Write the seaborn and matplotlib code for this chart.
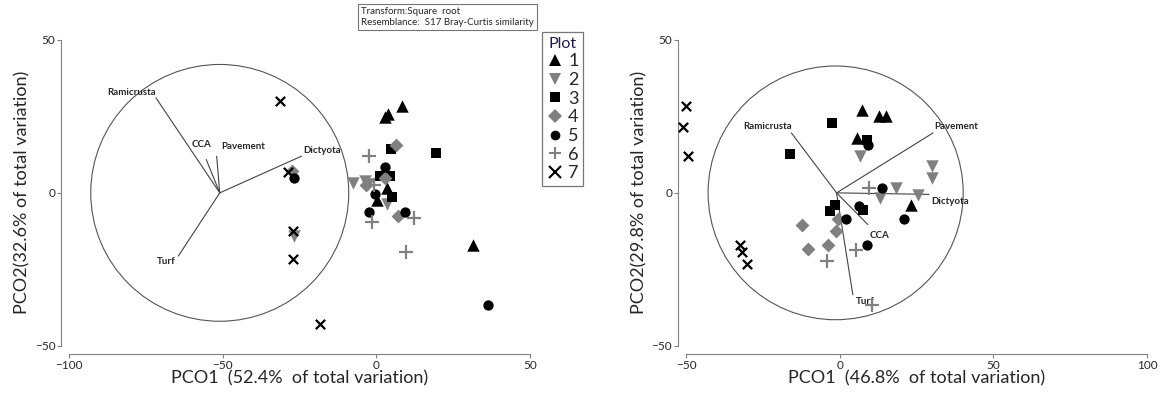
import matplotlib
matplotlib.use('Agg')
import matplotlib.pyplot as plt
import seaborn as sns
from matplotlib.patches import Circle
from matplotlib.lines import Line2D

# PCO scores, left panel (52.4% / 32.6%)
left_x = {
    1: [8.2, 3.9, 2.7, 31.3, 0.2, 3.5],
    2: [-7.5, -3.6, -2.8, 3.4, -26.8],
    3: [4.9, 19.4, 1.2, 4.4, 5.1],
    4: [-27.5, 6.3, 2.7, -3.3, 7.1],
    5: [-26.7, 2.7, -0.5, -2.5, 9.3, 36.5],
    6: [-2.4, -0.9, -1.3, 12.2, 9.7],
    7: [-31.3, -28.8, -27.1, -27.1, -18.4],
}
left_y = {
    1: [28.3, 25.8, 24.7, -17.2, -2.3, 1.7],
    2: [3.2, 3.8, 3.0, -3.5, -14.2],
    3: [14.4, 12.9, 5.6, 5.5, -1.2],
    4: [7.3, 15.8, 5.0, 2.7, -7.6],
    5: [4.8, 8.5, -0.5, -6.4, -6.1, -36.7],
    6: [12.1, 2.6, -9.6, -8.2, -19.5],
    7: [30.0, 6.8, -12.6, -21.6, -43.0],
}

# PCO scores, right panel (46.8% / 29.8%)
right_x = {
    1: [7.2, 12.7, 15.2, 5.6, 23.2],
    2: [6.5, 30.2, 30.0, 18.5, 25.6, 13.0],
    3: [-2.5, -16.0, 8.8, -1.4, -3.0, 7.6],
    4: [-12.4, -10.2, -3.8, -0.5, -1.1],
    5: [9.2, 13.8, 6.3, 2.1, 20.9, 8.8],
    6: [9.4, 5.3, -4.1, 10.5],
    7: [-50.0, -51.0, -49.3, -32.3, -31.7, -30.2],
}
right_y = {
    1: [27.0, 25.0, 25.0, 17.8, -4.0],
    2: [12.2, 8.8, 5.0, 1.7, -0.6, -1.8],
    3: [22.8, 12.6, 17.2, -4.1, -6.0, -5.6],
    4: [-10.5, -18.4, -17.2, -8.6, -12.5],
    5: [15.7, 1.7, -4.3, -8.6, -8.4, -17.1],
    6: [1.7, -18.8, -22.3, -36.6],
    7: [28.5, 21.4, 12.0, -17.0, -19.3, -23.4],
}

# vector overlay (endpoints in data units)
vec_names = ['Ramicrusta', 'CCA', 'Pavement', 'Dictyota', 'Turf']
left_origin = (-51.0, 0.0)
left_vec_x = [-71.8, -55.4, -52.0, -24.4, -64.5]
left_vec_y = [31.1, 10.9, 12.0, 12.0, -20.7]
left_circle = (-51.0, 0.0, 42.0)

right_origin = (-1.0, 0.0)
right_vec_x = [-15.7, 9.2, 30.4, 29.1, 4.3]
right_vec_y = [19.6, -10.4, 19.6, -0.5, -33.3]
right_circle = (-1.3, 0.0, 41.5)

plots = [1, 2, 3, 4, 5, 6, 7]
markers = {1: '^', 2: 'v', 3: 's', 4: 'D', 5: 'o', 6: '+', 7: 'x'}
colors = {1: 'black', 2: '#808080', 3: 'black', 4: '#808080',
          5: 'black', 6: '#808080', 7: 'black'}
sizes = {1: 80, 2: 80, 3: 60, 4: 50, 5: 55, 6: 90, 7: 45}

sns.set_style('white')
plt.rcParams['font.family'] = ['Lato', 'DejaVu Sans']

fig = plt.figure(figsize=(11.66, 3.96), dpi=100)
ax1 = fig.add_axes([0.0594, 0.127, 0.3951, 0.772])
ax2 = fig.add_axes([0.5883, 0.127, 0.3954, 0.772])


def draw_panel(ax, xs, ys, origin, vx, vy, circ, label_pos):
    ax.add_patch(Circle((circ[0], circ[1]), circ[2], fill=False,
                        ec='#555555', lw=0.8, zorder=1))
    for name, ex, ey in zip(vec_names, vx, vy):
        ax.plot([origin[0], ex], [origin[1], ey], color='#444444', lw=0.8, zorder=1)
        tx, ty, ha, va = label_pos[name]
        ax.text(tx, ty, name, ha=ha, va=va, fontsize=7, fontweight='bold', zorder=2)
    for p in plots:
        m = markers[p]
        kw = dict(linewidth=1.6) if m in ('+', 'x') else dict(linewidth=0)
        sns.scatterplot(x=xs[p], y=ys[p], marker=m, color=colors[p], s=sizes[p],
                        ax=ax, clip_on=False, zorder=3, **kw)


left_labels = {
    'Ramicrusta': (-71.6, 31.3, 'right', 'bottom'),
    'CCA': (-56.9, 14.2, 'center', 'bottom'),
    'Pavement': (-50.4, 15.0, 'left', 'center'),
    'Dictyota': (-23.8, 13.8, 'left', 'center'),
    'Turf': (-65.4, -22.4, 'right', 'center'),
}
right_labels = {
    'Ramicrusta': (-15.5, 20.2, 'right', 'bottom'),
    'CCA': (9.6, -14.0, 'left', 'center'),
    'Pavement': (30.8, 20.2, 'left', 'bottom'),
    'Dictyota': (29.8, -2.8, 'left', 'center'),
    'Turf': (5.2, -35.5, 'left', 'center'),
}

draw_panel(ax1, left_x, left_y, left_origin, left_vec_x, left_vec_y, left_circle, left_labels)
draw_panel(ax2, right_x, right_y, right_origin, right_vec_x, right_vec_y, right_circle, right_labels)

ax1.set_xlim(-100, 50)
ax2.set_xlim(-50, 100)
for ax in (ax1, ax2):
    ax.set_ylim(-50, 50)
    ax.set_xticks([ax.get_xlim()[0] + 50 * i for i in range(4)])
    ax.set_yticks([-50, 0, 50])
    ax.tick_params(axis='both', direction='out', length=3, width=0.8,
                   color='#808080', labelsize=8.5, pad=1, left=True, bottom=True)
    sns.despine(ax=ax, offset=6, trim=True)
    for s in ('left', 'bottom'):
        ax.spines[s].set_color('#808080')
        ax.spines[s].set_linewidth(0.8)

ax1.set_xlabel('PCO1  (52.4%  of total variation)', fontsize=13, labelpad=0)
ax1.set_ylabel('PCO2(32.6% of total variation)', fontsize=13, labelpad=3)
ax2.set_xlabel('PCO1  (46.8%  of total variation)', fontsize=13, labelpad=0)
ax2.set_ylabel('PCO2(29.8% of total variation)', fontsize=13, labelpad=3)

# legend
handles = []
for p in plots:
    m = markers[p]
    if m in ('+', 'x'):
        h = Line2D([], [], linestyle='none', marker=m, color=colors[p],
                   markersize=8, markeredgewidth=1.5)
    else:
        h = Line2D([], [], linestyle='none', marker=m, color=colors[p],
                   markersize=8 if m in ('^', 'v') else 7, markeredgewidth=0)
    handles.append(h)
leg = fig.legend(handles, [str(p) for p in plots], title='Plot',
                 loc='upper left', bbox_to_anchor=(542 / 1166, 1 - 32 / 396),
                 fontsize=13, title_fontsize=11.5, frameon=True, fancybox=False,
                 handlelength=0.9, handletextpad=0.3, labelspacing=0.15,
                 borderpad=0.25, borderaxespad=0)
leg.get_title().set_color('#1c1c50')
leg.get_frame().set_edgecolor('#555555')
leg.get_frame().set_linewidth(0.9)

fig.text(361 / 1166, 1 - 7 / 396,
         'Transform:Square  root\nResemblance:  S17 Bray-Curtis similarity',
         fontsize=7, va='top', ha='left', linespacing=1.25,
         bbox=dict(boxstyle='square,pad=0.3', fc='white', ec='#777777', lw=0.8))

fig.savefig('out.png', dpi=100)
